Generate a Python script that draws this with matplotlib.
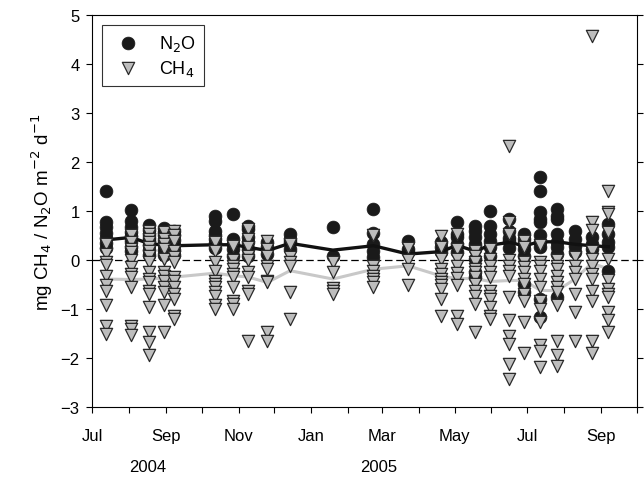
import pandas as pd
import matplotlib
matplotlib.use("Agg")
import matplotlib.pyplot as plt
import matplotlib.dates as mdates

plt.rcParams['font.family'] = ['Liberation Sans', 'DejaVu Sans']

# sampling dates
sample_dates = pd.to_datetime([
    "2004-07-13", "2004-08-03", "2004-08-18", "2004-08-30", "2004-09-08",
    "2004-10-12", "2004-10-27", "2004-11-09", "2004-11-25", "2004-12-14",
    "2005-01-19", "2005-02-22", "2005-03-23", "2005-04-20", "2005-05-03",
    "2005-05-18", "2005-05-31", "2005-06-16", "2005-06-28", "2005-07-12",
    "2005-07-26", "2005-08-10", "2005-08-24", "2005-09-07",
])

# N2O fluxes per sampling date
n2o_values = [
    [1.40, 0.78, 0.68, 0.55, 0.45, 0.35, 0.25],
    [1.01, 0.80, 0.68, 0.57, 0.48, 0.38, 0.27, 0.18],
    [0.72, 0.62, 0.52, 0.45, 0.38, 0.30, 0.20, 0.10],
    [0.66, 0.58, 0.50, 0.40, 0.30, 0.20, 0.10],
    [0.60, 0.50, 0.40, 0.30, 0.20, 0.10],
    [0.90, 0.80, 0.60, 0.50, 0.42, 0.35, 0.25],
    [0.94, 0.43, 0.33, 0.22, 0.09],
    [0.70, 0.63, 0.46, 0.36, 0.22, 0.09],
    [0.36, 0.26, 0.12],
    [0.53, 0.43, 0.36, 0.22],
    [0.68, 0.09],
    [1.03, 0.55, 0.33, 0.19, 0.05],
    [0.39, 0.22, 0.16],
    [0.36, 0.26, 0.16],
    [0.78, 0.53, 0.46, 0.33, 0.16],
    [0.70, 0.60, 0.46, 0.33, 0.22, 0.02, -0.25, -0.35],
    [1.00, 0.70, 0.53, 0.39, 0.26, 0.09],
    [0.84, 0.60, 0.45, 0.39, 0.25],
    [0.53, 0.43, 0.33, 0.22, 0.09, -0.49, -0.66],
    [1.70, 1.41, 0.97, 0.84, 0.77, 0.50, 0.36, 0.26, -0.80, -1.17],
    [1.04, 0.90, 0.84, 0.53, 0.36, 0.26, 0.12, -0.76],
    [0.60, 0.43, 0.29, 0.17],
    [0.46, 0.33, 0.22],
    [0.73, 0.53, 0.36, 0.26, -0.22],
]

# CH4 fluxes per sampling date
ch4_values = [
    [0.33, 0.12, -0.05, -0.10, -0.32, -0.52, -0.63, -0.92, -1.35, -1.51],
    [0.50, 0.36, 0.22, 0.16, -0.01, -0.15, -0.29, -0.35, -0.56, -1.34, -1.41, -1.54],
    [0.60, 0.53, 0.43, 0.36, 0.26, 0.19, 0.09, -0.05, -0.25, -0.39, -0.46, -0.63,
     -0.69, -0.97, -1.48, -1.68, -1.95],
    [0.56, 0.43, 0.33, 0.22, 0.02, -0.25, -0.32, -0.42, -0.56, -0.66, -0.93, -1.48],
    [0.60, 0.50, 0.39, 0.19, 0.05, -0.05, -0.35, -0.42, -0.56, -0.69, -0.80, -1.14, -1.20],
    [0.36, 0.19, -0.05, -0.22, -0.42, -0.49, -0.56, -0.66, -0.73, -0.93, -1.00],
    [0.29, -0.01, -0.12, -0.18, -0.29, -0.35, -0.56, -0.83, -0.90, -1.00],
    [0.63, 0.43, 0.26, 0.09, -0.01, -0.25, -0.35, -0.63, -0.69, -1.65],
    [0.39, 0.22, 0.09, -0.12, -0.18, -0.42, -0.46, -1.48, -1.65],
    [0.33, 0.05, -0.05, -0.12, -0.66, -1.20],
    [-0.04, -0.25, -0.58, -0.63, -0.70],
    [0.50, -0.12, -0.22, -0.32, -0.39, -0.46, -0.56],
    [0.24, -0.01, -0.18, -0.52],
    [0.48, 0.26, 0.02, -0.18, -0.29, -0.39, -0.46, -0.52, -0.59, -0.80, -1.14],
    [0.53, 0.22, 0.02, -0.13, -0.27, -0.37, -0.52, -1.15, -1.31],
    [0.19, 0.09, -0.05, -0.18, -0.25, -0.35, -0.49, -0.63, -0.73, -0.90, -1.48],
    [0.22, 0.02, -0.12, -0.25, -0.35, -0.63, -0.73, -0.80, -0.97, -1.14, -1.20],
    [2.33, 0.77, 0.53, -0.01, -0.12, -0.22, -0.32, -0.76, -1.22, -1.56, -1.72, -2.12, -2.43],
    [0.39, 0.26, -0.05, -0.15, -0.25, -0.39, -0.49, -0.69, -0.83, -1.27, -1.90],
    [0.31, -0.05, -0.12, -0.22, -0.39, -0.56, -0.83, -1.00, -1.27, -1.73, -1.85, -2.19],
    [-0.01, -0.12, -0.18, -0.32, -0.46, -0.56, -0.66, -0.93, -1.65, -1.95, -2.16],
    [0.05, -0.12, -0.25, -0.39, -0.69, -1.07, -1.65],
    [4.58, 0.77, 0.62, 0.19, 0.02, -0.12, -0.29, -0.39, -0.63, -0.83, -1.65, -1.90],
    [1.40, 0.98, 0.94, 0.56, 0.02, -0.40, -0.59, -0.69, -0.76, -1.07, -1.22, -1.48],
]

# mean lines
n2o_mean = [0.41, 0.46, 0.33, 0.31, 0.29, 0.31, 0.31, 0.26, 0.19, 0.34, 0.20, 0.29,
            0.12, 0.17, 0.30, 0.18, 0.30, 0.36, 0.29, 0.37, 0.37, 0.32, 0.29, 0.27]
ch4_mean = [-0.39, -0.40, -0.39, -0.37, -0.35, -0.27, -0.32, -0.35, -0.46, -0.22, -0.39, -0.19,
            -0.12, -0.33, -0.38, -0.38, -0.44, -0.42, -0.42, -0.62, -0.63, -0.39, -0.07, -0.18]

year_labels = ["2004", "2005"]
year_label_dates = pd.to_datetime(["2004-08-17", "2005-02-26"])

# flatten into long table
n2o_x = [d for d, vals in zip(sample_dates, n2o_values) for _ in vals]
n2o_y = [v for vals in n2o_values for v in vals]
ch4_x = [d for d, vals in zip(sample_dates, ch4_values) for _ in vals]
ch4_y = [v for vals in ch4_values for v in vals]

fig = plt.figure(figsize=(6.44, 4.85), dpi=100)
ax = fig.add_axes([0.143, 0.159, 0.846, 0.808])

ax.axhline(0, color='black', linestyle=(0, (6, 3)), linewidth=0.9, zorder=1)
ax.plot(sample_dates, ch4_mean, color='#c8c8c8', linewidth=2.2, zorder=1.5)
ax.scatter(n2o_x, n2o_y, s=85, color='#1a1a1a', edgecolors='#1a1a1a', linewidths=0.5,
           label='N$_2$O', zorder=2)
ax.plot(sample_dates, n2o_mean, color='#111111', linewidth=2.4, zorder=3)
ax.scatter(ch4_x, ch4_y, s=78, marker='v', color='#bdbdbd', edgecolors='#2a2a2a',
           linewidths=0.9, label='CH$_4$', zorder=4)

ax.set_xlim(pd.Timestamp("2004-07-01"), pd.Timestamp("2005-10-01"))
ax.set_ylim(-3, 5)
ax.set_yticks(range(-3, 6))
ax.xaxis.set_major_locator(mdates.MonthLocator(bymonth=[1, 3, 5, 7, 9, 11]))
ax.xaxis.set_minor_locator(mdates.MonthLocator())
ax.xaxis.set_major_formatter(mdates.DateFormatter('%b'))

ax.tick_params(axis='both', which='both', direction='out', length=4, width=0.8,
               labelsize=12, colors='black')
ax.tick_params(axis='y', right=True)
ax.tick_params(axis='x', pad=11)
ax.tick_params(axis='y', pad=5)
for sp in ax.spines.values():
    sp.set_linewidth(0.8)

trans = ax.get_xaxis_transform()
for lbl, d in zip(year_labels, year_label_dates):
    ax.text(d, -0.152, lbl, transform=trans, ha='center', va='center', fontsize=12)

ax.set_ylabel('mg CH$_4$ / N$_2$O m$^{-2}$ d$^{-1}$', fontsize=13.5, labelpad=4)

leg = ax.legend(loc='upper left', fontsize=13, frameon=True, fancybox=False,
                edgecolor='black', borderaxespad=0.55, handletextpad=0.7,
                borderpad=0.45, labelspacing=0.25)
leg.get_frame().set_linewidth(0.8)

fig.savefig('out.png', dpi=100)
